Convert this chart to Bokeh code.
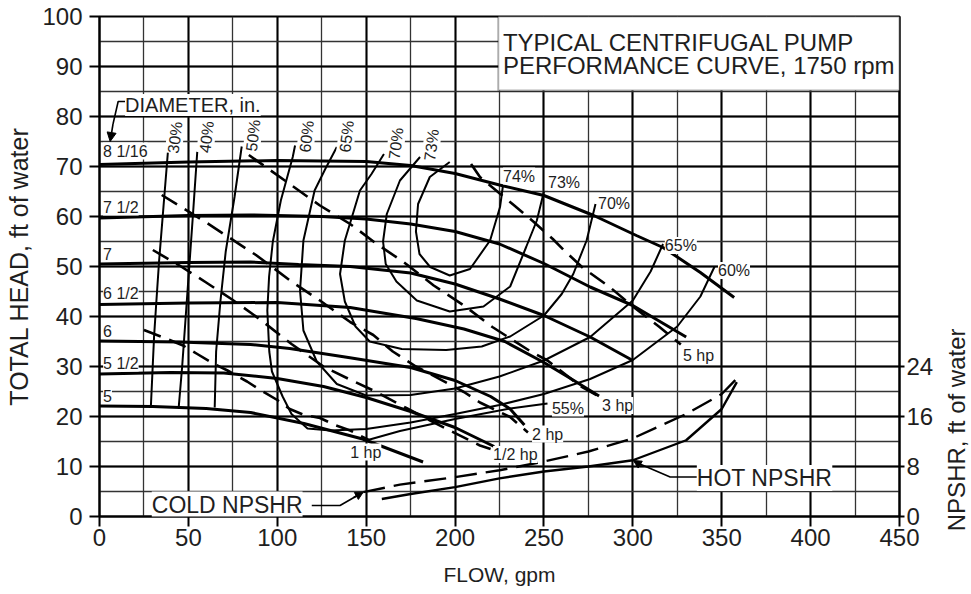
from bokeh.plotting import figure
from bokeh.layouts import row
from bokeh.models import (Range1d, LinearAxis, FixedTicker, SingleIntervalTicker,
                          ColumnDataSource, LabelSet, Label, BoxAnnotation, Arrow, NormalHead)
from bokeh.core.properties import value
from bokeh.embed import file_html
from bokeh.resources import INLINE

FONT = "Liberation Sans"
INK = "#1e1e1e"

# ---- impeller diameter curves: flow (gpm), total head (ft) ----
d8_1_16_q = [0, 50, 100, 150, 175, 200, 225, 250, 278, 302, 317, 338, 357]
d8_1_16_h = [70.4, 70.9, 71.2, 71.0, 70.2, 68.6, 66.3, 64.2, 60.2, 56.2, 53.8, 48.8, 43.8]
d7_1_2_q = [0, 50, 85, 125, 150, 175, 200, 225, 250, 276, 300, 330]
d7_1_2_h = [59.7, 60.2, 60.3, 60.0, 59.5, 58.5, 57.0, 54.5, 50.6, 45.9, 42.2, 35.9]
d7_q = [0, 50, 85, 112, 141, 175, 200, 225, 250, 276, 300]
d7_h = [50.5, 50.8, 50.9, 50.4, 50.0, 48.7, 46.5, 43.5, 40.2, 35.9, 31.2]
d6_1_2_q = [0, 50, 100, 141, 178, 205, 228, 250, 265, 281]
d6_1_2_h = [42.4, 42.7, 42.8, 41.8, 39.6, 37.5, 35.0, 30.8, 27.6, 24.1]
d6_q = [0, 45, 85, 107, 140, 175, 200, 220, 231, 239]
d6_h = [35.1, 34.9, 34.4, 33.6, 31.8, 29.8, 27.2, 24.0, 21.5, 18.3]
d5_1_2_q = [0, 40, 70, 100, 126, 150, 175, 200, 222]
d5_1_2_h = [28.5, 28.8, 28.7, 27.6, 26.0, 23.8, 21.0, 17.8, 14.0]
d5_q = [0, 30, 60, 85, 115, 148, 165, 182]
d5_h = [22.1, 22.0, 21.6, 20.8, 18.6, 15.5, 13.2, 10.9]

# ---- brake horsepower lines ----
hp1_q = [25, 38, 47, 55, 64, 72, 83, 90, 100, 107, 115, 124, 133, 141, 152]
hp1_h = [37.3, 35.5, 34.2, 32.5, 30.6, 29.2, 27.0, 25.4, 23.3, 21.5, 20.3, 19.7, 18.2, 17.2, 15.2]
hp1_5_q = [30, 45, 60, 75, 90, 108, 126, 142, 154, 172, 186, 197, 214, 220]
hp1_5_h = [53.3, 50.2, 46.8, 43.3, 39.5, 34.5, 30.0, 27.2, 25.2, 21.8, 19.2, 17.2, 14.2, 13.5]
hp2_q = [35, 60, 88, 108, 124, 141, 154, 165, 178, 205, 214, 231, 241]
hp2_h = [64.3, 58.8, 52.3, 47.0, 43.2, 38.9, 36.3, 33.0, 30.0, 24.9, 22.8, 19.9, 16.8]
hp3_q = [84, 105, 124, 141, 156, 171, 188, 205, 221, 243, 252, 270, 282]
hp3_h = [72.3, 67.0, 62.2, 58.5, 54.5, 50.9, 46.2, 42.2, 37.9, 32.9, 31.2, 26.2, 23.8]
hp5_q = [209, 214, 233, 244, 255, 262, 272, 287, 300, 315, 327]
hp5_h = [70.5, 67.9, 62.3, 59.0, 55.5, 53.0, 49.7, 45.9, 42.0, 37.9, 34.4]

# ---- efficiency contours ----
e30_q = [38.5, 36, 33.5, 31.8, 30.7, 29.8, 28.9]
e30_h = [73, 62, 51, 42, 36, 29, 22]
e40_q = [55, 52.5, 50.5, 48.5, 46.5, 44.6]
e40_h = [73, 60, 50, 40, 30, 22]
e50_q = [80, 76, 71, 68, 65.6, 64.8]
e50_h = [74, 64, 53, 43, 33, 21.8]
e55_q = [150, 169, 200, 231, 252]
e55_h = [15.2, 17.1, 19.5, 21.6, 22.6]
e60_q = [110, 108.7, 102, 97.5, 95.4, 94.4, 95.5, 97, 103, 108, 117, 130, 150, 175, 200, 225, 250, 276, 300, 325, 338, 346]
e60_h = [74.2, 71.9, 63.2, 55, 48, 41.2, 33, 29, 24, 20.5, 17.6, 17.2, 17.5, 18.8, 20.5, 22.3, 24.5, 27.5, 31.3, 38, 44, 50]
e65_q = [133.5, 127, 121, 114.7, 112.8, 114.7, 122.2, 133.5, 150, 175, 200, 225, 250, 276, 300, 310, 317]
e65_h = [73.9, 69.5, 65.2, 55.2, 45.2, 37.2, 31, 26.5, 24.2, 24.3, 25.6, 28, 31.2, 35.9, 43.2, 49, 54.5]
e70_q = [160, 153, 146.5, 138, 135.3, 138, 144, 152, 170, 195, 215, 231, 250, 260, 266.5, 274, 279]
e70_h = [72.5, 68.5, 65.2, 55.2, 48.5, 43, 38, 35, 33.5, 33.3, 34, 36, 40.2, 44.5, 48.5, 55.2, 62.5]
e73_q = [180.3, 169, 161.6, 159.5, 161, 167, 178.5, 197, 216, 231, 240, 246, 250]
e73_h = [71.9, 67.2, 60.5, 55, 50.5, 47, 43.2, 41, 42, 46, 53.9, 59.2, 65]
e74_q = [197, 185.8, 179.2, 178, 180, 186, 197, 208.4, 219.7, 225.3, 227]
e74_h = [70.9, 67.9, 62.5, 57, 52.5, 49.9, 48.2, 49.5, 55.2, 61.9, 66.3]

# ---- NPSHR curves: flow (gpm), NPSHR (ft) ----
cold_q = [148.4, 169, 200, 225, 250, 275, 300, 330, 350, 361]
cold_n = [3.9, 5.1, 6.3, 7.4, 8.8, 10.4, 12.5, 16.4, 19.6, 22.8]
hot_q = [158.8, 175, 200, 225, 250, 275, 300, 330, 350, 358.5]
hot_n = [2.8, 3.6, 4.7, 6.1, 7.2, 8.0, 9.0, 12.2, 17.2, 21.5]

# ---- axis ticks ----
npshr_ticks = [0, 8, 16, 24]

# ---- labels ----
dia_text = ["8 1/16", "7 1/2", "7", "6 1/2", "6", "5 1/2", "5"]
dia_lab_q = [2, 2, 2, 2, 2, 2, 2]
dia_lab_h = [73.1, 61.9, 52.5, 44.7, 37.2, 30.7, 24.2]

eff_left_text = ["30%", "40%", "50%", "60%", "65%", "70%", "73%"]
eff_left_q = [42.5, 60.3, 86.4, 116.5, 139.0, 166.8, 186.8]
eff_left_h = [75.8, 75.9, 76.2, 76.0, 76.0, 74.6, 74.3]

eff_right_text = ["74%", "73%", "70%", "65%", "60%", "55%"]
eff_right_q = [227, 252.3, 280.4, 318, 347.9, 254.5]
eff_right_h = [68.1, 66.9, 62.7, 54.2, 49.2, 21.7]

hp_text = ["1 hp", "1/2 hp", "2 hp", "3 hp", "5 hp"]
hp_lab_q = [141, 221.4, 243.3, 282.7, 328.2]
hp_lab_h = [12.9, 12.4, 16.5, 22.2, 32.2]

P_WIDTH = 936
p = figure(width=P_WIDTH, height=594, x_range=Range1d(0, 450), y_range=Range1d(0, 100),
           output_backend="svg", toolbar_location=None,
           min_border_left=99, min_border_right=37, min_border_top=16, min_border_bottom=78)
p.background_fill_color = "white"
p.border_fill_color = "white"
p.outline_line_color = "black"
p.outline_line_width = 2

p.extra_y_ranges = {"npshr": Range1d(0, 80)}

# grid: heavy lines every 50 gpm / 10 ft, lighter ones in between
xt = SingleIntervalTicker(interval=50, num_minor_ticks=2)
yt = SingleIntervalTicker(interval=10, num_minor_ticks=2)
p.xaxis.ticker = xt
p.yaxis.ticker = yt
p.xgrid.ticker = xt
p.ygrid.ticker = yt
for g in (p.xgrid, p.ygrid):
    g.grid_line_color = "black"
    g.grid_line_width = 2
    g.minor_grid_line_color = "#333333"
    g.minor_grid_line_width = 1.3

right = LinearAxis(y_range_name="npshr", ticker=FixedTicker(ticks=npshr_ticks))
p.add_layout(right, "right")

for ax in (p.xaxis[0], p.yaxis[0], right):
    ax.axis_line_width = 2
    ax.axis_line_color = "black"
    ax.major_tick_line_width = 2
    ax.major_tick_line_color = "black"
    ax.major_tick_in = 0
    ax.minor_tick_in = 0
    ax.minor_tick_out = 0
    ax.major_label_text_font = FONT
    ax.major_label_text_font_size = "24px"
    ax.major_label_text_color = INK
    ax.axis_label_text_font = FONT
    ax.axis_label_text_font_size = "21px"
    ax.axis_label_text_font_style = "normal"
    ax.axis_label_text_color = INK

p.xaxis.major_tick_out = 10
p.xaxis.major_label_standoff = 2
p.xaxis.axis_label = "FLOW, gpm"
p.xaxis.axis_label_standoff = 14
p.yaxis[0].major_tick_out = 10
p.yaxis[0].major_label_standoff = 7
p.yaxis[0].axis_label = "TOTAL HEAD, ft of water"
p.yaxis[0].axis_label_text_font_size = "25px"
p.yaxis[0].axis_label_standoff = 6
right.major_tick_out = 5
right.major_label_standoff = 2


def curve(x, y, **kw):
    fn = getattr(p, "spline", None)
    if fn is not None:
        return fn(x, y, **kw)
    return p.line(x, y, **kw)


# impeller diameter curves
for q, h in [(d8_1_16_q, d8_1_16_h), (d7_1_2_q, d7_1_2_h), (d7_q, d7_h), (d6_1_2_q, d6_1_2_h),
             (d6_q, d6_h), (d5_1_2_q, d5_1_2_h), (d5_q, d5_h)]:
    curve(q, h, line_color="black", line_width=3)

# efficiency contours
for q, h in [(e30_q, e30_h), (e40_q, e40_h), (e50_q, e50_h), (e55_q, e55_h), (e60_q, e60_h),
             (e65_q, e65_h), (e70_q, e70_h), (e73_q, e73_h), (e74_q, e74_h)]:
    curve(q, h, line_color="black", line_width=2)

# horsepower lines
for q, h in [(hp1_q, hp1_h), (hp1_5_q, hp1_5_h), (hp2_q, hp2_h), (hp3_q, hp3_h), (hp5_q, hp5_h)]:
    curve(q, h, line_color="black", line_width=2.6, line_dash="18 9")

# NPSHR curves on the right-hand scale
curve(cold_q, cold_n, y_range_name="npshr", line_color="black", line_width=2.4, line_dash="22 9")
curve(hot_q, hot_n, y_range_name="npshr", line_color="black", line_width=2.4)

# leaders for the NPSHR labels and the diameter caption
p.line([119.4, 135.3, 147.0], [2.2, 2.2, 4.6], line_color="black", line_width=1.6)
p.add_layout(Arrow(end=NormalHead(size=8, fill_color="black", line_color="black"),
                   x_start=143.0, y_start=3.8, x_end=148.4, y_end=4.9, line_width=1.6))
p.line([336.0, 321.0, 302.0], [7.9, 7.9, 10.8], line_color="black", line_width=1.6)
p.add_layout(Arrow(end=NormalHead(size=8, fill_color="black", line_color="black"),
                   x_start=305.0, y_start=10.2, x_end=300.3, y_end=11.2, line_width=1.6))
p.line([14.4, 10.5, 7.6], [83.0, 83.0, 78.5], line_color="black", line_width=1.6)
p.add_layout(Arrow(end=NormalHead(size=9, fill_color="black", line_color="black"),
                   x_start=7.6, y_start=78.5, x_end=6.0, y_end=75.0, line_width=1.6))

# title box
p.add_layout(BoxAnnotation(left=224.3, right=450, bottom=85.2, top=100, fill_color="white",
                           fill_alpha=1, line_color="black", line_width=2, level="overlay"))
for txt, hy in [("TYPICAL CENTRIFUGAL PUMP", 94.9), ("PERFORMANCE CURVE, 1750 rpm", 90.2)]:
    p.add_layout(Label(x=226.9, y=hy, text=txt, text_font=FONT, text_font_size="24px",
                       text_color=INK, text_baseline="middle", text_align="left", level="overlay"))


def labels(q, h, txt, size, align="left", angle=0.0):
    src = ColumnDataSource(dict(x=q, y=h, t=txt))
    ls = LabelSet(x="x", y="y", text="t", source=src, text_font=value(FONT),
                  text_font_size=value(size), text_color=value(INK),
                  text_baseline=value("middle"), text_align=value(align), angle=angle,
                  background_fill_color=value("white"), background_fill_alpha=1.0)
    p.add_layout(ls)


labels(dia_lab_q, dia_lab_h, dia_text, "16px")
labels(eff_left_q, eff_left_h, eff_left_text, "16px", align="center", angle=1.45)
labels(eff_right_q, eff_right_h, eff_right_text, "16px")
labels(hp_lab_q, hp_lab_h, hp_text, "16px")

p.add_layout(Label(x=14.4, y=82.3, text="DIAMETER, in.", text_font=FONT, text_font_size="20px",
                   text_color=INK, text_baseline="middle", background_fill_color="white"))
p.add_layout(Label(x=29.4, y=2.4, text="COLD NPSHR", text_font=FONT, text_font_size="23px",
                   text_color=INK, text_baseline="middle", background_fill_color="white"))
p.add_layout(Label(x=336.0, y=7.7, text="HOT NPSHR", text_font=FONT, text_font_size="23px",
                   text_color=INK, text_baseline="middle", background_fill_color="white"))

# narrow strip on the right: its bare left axis carries the NPSHR scale title,
# which sits low beside the NPSHR ticks (trailing no-break spaces shift it down)
side = figure(width=971 - P_WIDTH, height=594, x_range=Range1d(0, 1), y_range=Range1d(0, 1),
              output_backend="svg", toolbar_location=None, x_axis_type=None,
              min_border_left=971 - P_WIDTH - 2, min_border_right=0,
              min_border_top=16, min_border_bottom=78)
side.outline_line_color = None
side.background_fill_color = "white"
side.border_fill_color = "white"
side.xgrid.visible = False
side.ygrid.visible = False
sax = side.yaxis[0]
sax.ticker = FixedTicker(ticks=[])
sax.axis_line_color = None
sax.major_tick_out = 0
sax.major_tick_in = 0
sax.minor_tick_out = 0
sax.minor_tick_in = 0
sax.axis_label = "NPSHR, ft of water" + "\u00a0" * 49
sax.axis_label_text_font = FONT
sax.axis_label_text_font_size = "24px"
sax.axis_label_text_font_style = "normal"
sax.axis_label_text_color = INK
sax.axis_label_standoff = 0

layout = row(p, side, spacing=0)
open("out.html", "w").write(file_html(layout, INLINE))
